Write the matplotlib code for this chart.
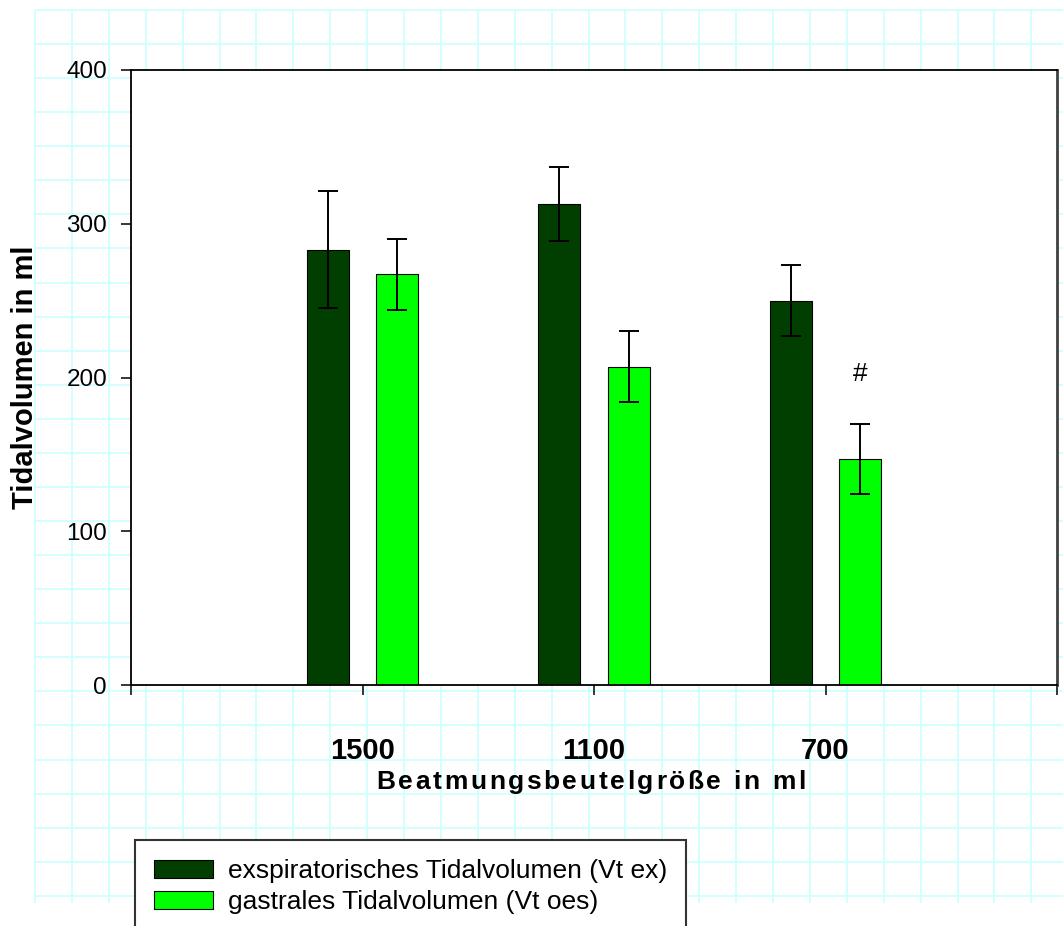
import matplotlib
matplotlib.use('Agg')
import matplotlib.pyplot as plt
import numpy as np

plt.rcParams['font.family'] = ['Liberation Sans', 'DejaVu Sans']

# Tidal volume per ventilation bag size (mean and SD, ml)
bag_sizes = ['1500', '1100', '700']
vt_ex_mean = [283, 313, 250]
vt_ex_sd = [38, 24, 23]
vt_oes_mean = [267, 207, 147]
vt_oes_sd = [23, 23, 23]
series_labels = ['exspiratorisches Tidalvolumen (Vt ex)',
                 'gastrales Tidalvolumen (Vt oes)']
marker_text = '#'
marker_value = 202

W, H = 1063, 926
DARK = '#003f00'
LIGHT = '#00ff00'
GRID = '#ccffff'


def spaced_text(fig, s, x_px, y_px, gap_px, **kw):
    """Centre a string at (x_px, baseline y_px) with extra letter spacing."""
    renderer = fig.canvas.get_renderer()

    def width(t):
        probe = fig.text(0, 0, t, **kw)
        w = probe.get_window_extent(renderer).width
        probe.remove()
        return w

    bars = width('||')
    offsets = [width('|' + s[:i] + '|') - bars for i in range(len(s))]
    total = width('|' + s + '|') - bars + gap_px * (len(s) - 1)
    x0 = x_px - total / 2
    for i, ch in enumerate(s):
        if ch == ' ':
            continue
        fig.text((x0 + offsets[i] + i * gap_px) / W, 1 - y_px / H, ch,
                 ha='left', va='baseline', **kw)


fig = plt.figure(figsize=(W / 100, H / 100), dpi=100)

# graph paper behind everything
bg = fig.add_axes([0, 0, 1, 1], zorder=0)
bg.set_xlim(0, W)
bg.set_ylim(H, 0)
bg.axis('off')
gx = np.arange(35, W, 36.9)
gy = np.arange(10, 900, 34.07)
bg.vlines(gx, 10, 903, color=GRID, lw=1.2)
bg.hlines(gy, 35, W, color=GRID, lw=1.2)

ax = fig.add_axes([131 / W, 1 - 685 / H, 926 / W, 615 / H], zorder=2)
ax.set_facecolor('white')

x = np.arange(1, len(bag_sizes) + 1)
width = 0.18
err_kw = dict(ecolor='black', elinewidth=1.4, capsize=7.2, capthick=1.4)
ax.bar(x - 0.15, vt_ex_mean, width, yerr=vt_ex_sd, color=DARK,
       edgecolor='black', linewidth=0.8, error_kw=err_kw, label=series_labels[0])
ax.bar(x + 0.15, vt_oes_mean, width, yerr=vt_oes_sd, color=LIGHT,
       edgecolor='black', linewidth=0.8, error_kw=err_kw, label=series_labels[1])

ax.text(x[2] + 0.15, marker_value, marker_text, ha='center', va='center',
        fontsize=19)

ax.set_xlim(0, len(bag_sizes) + 1)
ax.set_ylim(0, 400)
ax.set_xticks(np.arange(0, len(bag_sizes) + 2))
ax.set_xticklabels([''] + bag_sizes + [''], fontsize=21, fontweight='bold')
ax.set_yticks(np.arange(0, 401, 100))
ax.tick_params(axis='x', direction='out', length=7.2, width=1.1, pad=30)
ax.tick_params(axis='y', direction='out', length=7.2, width=1.1, pad=10,
               labelsize=17.5)

for side in ['left', 'bottom', 'top']:
    ax.spines[side].set_color('black')
    ax.spines[side].set_linewidth(1.3)
ax.spines['right'].set_color('#404040')
ax.spines['right'].set_linewidth(2)

ax.set_ylabel('Tidalvolumen in ml', fontsize=21, fontweight='bold', labelpad=20)

spaced_text(fig, 'Beatmungsbeutelgröße in ml', 591, 789, 2.6,
            fontsize=19, fontweight='bold')

leg = fig.legend(loc='upper left', bbox_to_anchor=(135 / W, 1 - 840 / H),
                 bbox_transform=fig.transFigure, fontsize=19, frameon=True,
                 fancybox=False, borderpad=0.72, labelspacing=0.28,
                 handlelength=2.24, handleheight=0.67, handletextpad=0.55,
                 borderaxespad=0)
leg.get_frame().set_edgecolor('#333333')
leg.get_frame().set_linewidth(1.5)
leg.get_frame().set_facecolor('white')
leg.get_frame().set_alpha(1)

fig.savefig('out.png', dpi=100)
